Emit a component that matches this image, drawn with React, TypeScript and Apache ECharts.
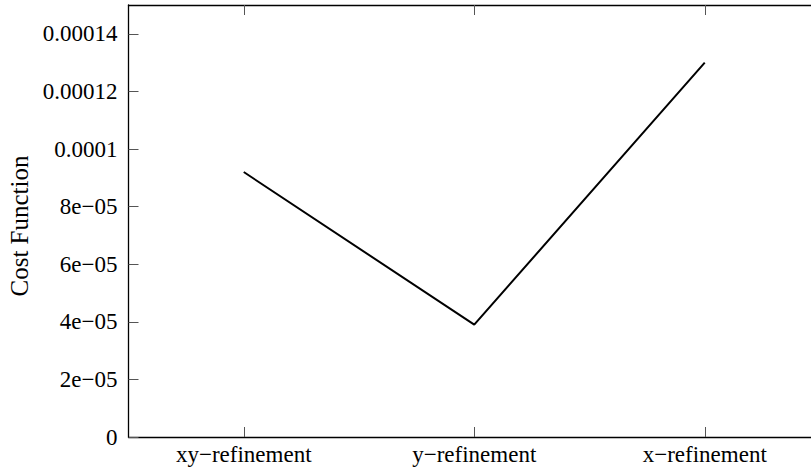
import React, { useEffect, useRef } from "react";
import * as echarts from "echarts";

const categories = ["xy\u2212refinement", "y\u2212refinement", "x\u2212refinement"];
const costValues = [9.2e-5, 3.9e-5, 1.3e-4];
const yTickLabels = ["0", "2e\u221205", "4e\u221205", "6e\u221205", "8e\u221205", "0.0001", "0.00012", "0.00014"];
const yAxisName = "Cost Function";

const FONT = "Liberation Serif";

export default function App() {
  const ref = useRef<HTMLDivElement>(null);
  useEffect(() => {
    if (!ref.current) return;
    const chart = echarts.init(ref.current, undefined, { renderer: "svg" });
    const axisLine = { show: true, lineStyle: { color: "#000", width: 1.3 } };
    const axisTick = { show: true, inside: true, length: 10, lineStyle: { color: "#555", width: 1 } };
    chart.setOption({
      animation: false,
      backgroundColor: "#fff",
      grid: {
        left: 128.5,
        top: 5,
        bottom: 34,
        right: -9,
        containLabel: false,
        outerBoundsMode: "none",
      },
      xAxis: [
        {
          type: "category",
          data: categories,
          position: "bottom",
          boundaryGap: true,
          axisLine,
          axisTick: { ...axisTick, alignWithLabel: true },
          axisLabel: { color: "#000", fontFamily: FONT, fontSize: 23, margin: 6 },
          splitLine: { show: false },
        },
        {
          type: "category",
          data: categories,
          position: "top",
          boundaryGap: true,
          axisLine,
          axisTick: { ...axisTick, alignWithLabel: true },
          axisLabel: { show: false },
          splitLine: { show: false },
        },
      ],
      yAxis: {
        type: "value",
        min: 0,
        max: 1.5e-4,
        interval: 2e-5,
        name: yAxisName,
        nameLocation: "middle",
        nameGap: 94,
        nameTextStyle: { color: "#000", fontFamily: FONT, fontSize: 25, padding: [0, 10, 0, 0] },
        axisLine,
        axisTick,
        splitLine: { show: false },
        axisLabel: {
          color: "#000",
          fontFamily: FONT,
          fontSize: 23,
          margin: 11,
          showMaxLabel: false,
          formatter: (v: number) => {
            const i = Math.round(v / 2e-5);
            if (Math.abs(v - i * 2e-5) > 1e-9) return "";
            return yTickLabels[i] ?? "";
          },
        },
      },
      series: [
        {
          type: "line",
          data: costValues,
          showSymbol: false,
          symbol: "none",
          lineStyle: { color: "#000", width: 2 },
        },
      ],
    });
    return () => chart.dispose();
  }, []);
  return <div ref={ref} style={{ width: 811, height: 471, position: "absolute", left: 0, top: 0 }} />;
}
